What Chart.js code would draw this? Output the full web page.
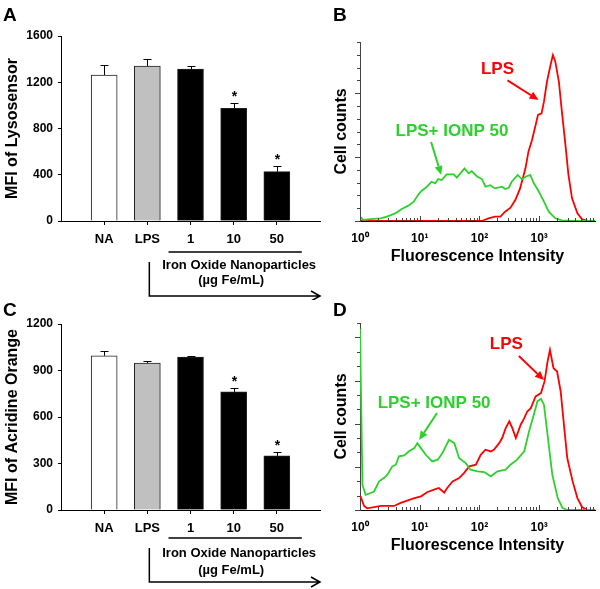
<!DOCTYPE html>
<html>
<head>
<meta charset="utf-8">
<script src="https://cdn.jsdelivr.net/npm/chart.js@4.4.0/dist/chart.umd.min.js"></script>
<style>
  body { margin: 0; background: #fff; }
  #fig { position: relative; width: 600px; height: 589px; overflow: hidden; }
  canvas { position: absolute; }
</style>
</head>
<body>
<div id="fig">
  <canvas id="panelA" width="330" height="300" style="left:0;top:0"></canvas>
  <canvas id="panelB" width="270" height="300" style="left:330px;top:0"></canvas>
  <canvas id="panelC" width="330" height="289" style="left:0;top:300px"></canvas>
  <canvas id="panelD" width="270" height="289" style="left:330px;top:300px"></canvas>
</div>
<script>
var FONT = '"Liberation Sans", Arial, sans-serif';
Chart.defaults.font.family = FONT;
Chart.defaults.color = '#000';
Chart.defaults.animation = false;

// bar panels (A, C)
var categories = ['NA', 'LPS', '1', '10', '50'];
var lysoMean = [1263, 1340, 1314, 975, 427];
var lysoErr = [84, 58, 24, 45, 49];
var acridineMean = [995, 948, 987, 762, 349];
var acridineErr = [32, 15, 6, 24, 24];
var significant = [false, false, false, true, true];
var barFill = ['#ffffff', '#c0c0c0', '#000000', '#000000', '#000000'];
var lysoTicks = [0, 400, 800, 1200, 1600];
var acridineTicks = [0, 300, 600, 900, 1200];

// histograms (B, D) - x = fluorescence intensity, y = cell counts
var histTickValues = [1, 10, 100, 1000];
var histTickLabels = ['10\u2070', '10\u00b9', '10\u00b2', '10\u00b3'];

var bGreenX = [1, 1.14, 1.48, 2.19, 2.82, 3.89, 5.01, 6.46, 7.94, 9.55, 10.7, 13.2, 15.8, 18.2, 20.4, 23.4, 28.2, 37.2, 41.7, 47.9, 56.2, 66.1, 74.1, 91.2, 110, 126, 151, 182, 240, 269, 309, 347, 437, 513, 603, 708, 813, 955, 1202, 1445, 1862, 2399, 3548, 8600];
var bGreenY = [3.4, 0.8, 1.5, 2.1, 3.4, 6, 9.4, 12, 15.1, 20.9, 23.5, 26.8, 30.7, 29.5, 32.8, 32, 36.5, 36.5, 34, 37.3, 41.2, 37.3, 39, 34.8, 32.8, 26.8, 28, 25.5, 26.8, 25, 26, 30.7, 36, 32.8, 34.8, 36, 29.5, 24.2, 15.1, 7.3, 2.1, 0.5, 0, 0];
var bRedX = [1, 110, 141, 182, 224, 269, 331, 398, 479, 589, 661, 759, 871, 955, 1096, 1202, 1349, 1549, 1698, 1862, 2138, 2399, 2754, 3090, 3548, 4365, 5248, 6761, 8600];
var bRedY = [0, 0, 2.1, 3.4, 3.4, 7.3, 10.4, 16.4, 25.5, 41.2, 54.2, 63.3, 75, 82.9, 84.2, 93.3, 108.9, 122, 129.8, 124.6, 108.9, 85.5, 59.4, 36, 17.7, 6, 1.3, 0, 0];

var dGreenX = [1, 1.10, 1.24, 1.51, 1.72, 2.09, 2.51, 2.88, 3.47, 3.98, 4.47, 5.50, 6.61, 8.13, 9.12, 10.5, 12.6, 16.2, 20.0, 24.0, 30.9, 38.0, 45.7, 58.9, 70.8, 93.3, 120, 155, 200, 275, 331, 427, 562, 676, 813, 933, 1072, 1202, 1380, 1660, 2042, 2455, 2951, 8600];
var dGreenY = [126, 17.6, 10.6, 11.8, 12.9, 19.9, 22.2, 24.5, 30.3, 31.5, 37.3, 38, 40.8, 43, 46.5, 43, 38.4, 33.8, 35, 39.6, 48.8, 46.5, 36, 32.6, 28, 26.9, 26.4, 23.4, 26.9, 28, 31.5, 35, 40.8, 54.6, 66.2, 75.5, 77.3, 73.2, 52.3, 24.5, 8.3, 1.4, 0, 0];
var dRedX = [1.02, 1.17, 1.32, 2.24, 3.72, 4.79, 6.17, 8.13, 10.5, 13.5, 17.4, 20.9, 25.7, 28.8, 35.5, 45.7, 55.0, 67.6, 87.1, 105, 126, 155, 174, 214, 240, 275, 316, 355, 407, 490, 562, 631, 724, 871, 1072, 1230, 1380, 1514, 1738, 1995, 2291, 2630, 2951, 3631, 4365, 5248, 6457, 8600];
var dRedY = [9.5, 2.8, 1.2, 2.8, 2.8, 4.9, 6.5, 8.3, 9.5, 12.5, 14.1, 15.3, 12, 15.3, 19.9, 22.2, 25.7, 30.3, 31.5, 38.4, 41.9, 40.7, 41.9, 46.5, 50, 56.9, 61.6, 56.9, 50, 59.3, 63.9, 68.5, 70.8, 79, 81.3, 89.4, 103.2, 111.3, 98.6, 96.3, 82.4, 56.9, 36.1, 19.9, 8.3, 1.9, 0, 0];

var RED = '#ff0000';
var GREEN = '#2ed02e';

function drawLetter(ctx, letter, y) {
    ctx.save();
    ctx.fillStyle = '#000';
    ctx.font = 'bold 19px ' + FONT;
    ctx.textAlign = 'left';
    ctx.textBaseline = 'alphabetic';
    ctx.fillText(letter, 3, y);
    ctx.restore();
}

function drawArrow(ctx, x1, y1, x2, y2, color) {
    var a = Math.atan2(y2 - y1, x2 - x1), L = 9, W = 4;
    var bx = x2 - L * Math.cos(a), by = y2 - L * Math.sin(a);
    ctx.strokeStyle = color; ctx.fillStyle = color; ctx.lineWidth = 2;
    ctx.beginPath(); ctx.moveTo(x1, y1); ctx.lineTo(bx, by); ctx.stroke();
    ctx.beginPath();
    ctx.moveTo(x2, y2);
    ctx.lineTo(bx + W * Math.sin(a), by - W * Math.cos(a));
    ctx.lineTo(bx - W * Math.sin(a), by + W * Math.cos(a));
    ctx.closePath(); ctx.fill();
}

// error bars, stars, bracket under the dose labels
var barExtras = {
    id: 'barExtras',
    afterDatasetsDraw: function (chart, args, opts) {
        var ctx = chart.ctx, xs = chart.scales.x, ys = chart.scales.y;
        var means = chart.data.datasets[0].data;
        ctx.save();
        ctx.strokeStyle = '#000'; ctx.lineWidth = 1;
        means.forEach(function (m, i) {
            if (m == null) return;
            var px = Math.round(xs.getPixelForValue(i)) + 0.5;
            var top = Math.round(ys.getPixelForValue(m + opts.errs[i])) + 0.5;
            var base = ys.getPixelForValue(m);
            ctx.beginPath();
            ctx.moveTo(px, base); ctx.lineTo(px, top);
            ctx.moveTo(px - 4, top); ctx.lineTo(px + 4, top);
            ctx.stroke();
            if (opts.sig[i]) {
                ctx.fillStyle = '#000';
                ctx.font = 'bold 14px ' + FONT;
                ctx.textAlign = 'center'; ctx.textBaseline = 'alphabetic';
                ctx.fillText('*', px, top - 3);
            }
        });
        ctx.restore();
    },
    afterDraw: function (chart, args, opts) {
        var ctx = chart.ctx, xs = chart.scales.x, b = opts.bracket;
        var yl = chart.chartArea.bottom;
        var xl = xs.getPixelForValue(3) - 22, xr = xs.getPixelForValue(5) + 25;
        var xv = xs.getPixelForValue(2) + 2, xe = chart.chartArea.right;
        ctx.save();
        ctx.strokeStyle = '#000'; ctx.lineWidth = 1.5;
        ctx.beginPath(); ctx.moveTo(xl, yl + b.line); ctx.lineTo(xr, yl + b.line); ctx.stroke();
        ctx.beginPath();
        ctx.moveTo(xv, yl + b.vTop); ctx.lineTo(xv, yl + b.arrow); ctx.lineTo(xe, yl + b.arrow);
        ctx.moveTo(xe - 9, yl + b.arrow - 5); ctx.lineTo(xe, yl + b.arrow); ctx.lineTo(xe - 9, yl + b.arrow + 5);
        ctx.stroke();
        ctx.fillStyle = '#000';
        ctx.font = 'bold 13px ' + FONT;
        ctx.textAlign = 'center'; ctx.textBaseline = 'middle';
        var xm = (xl + xr) / 2;
        ctx.fillText('Iron Oxide Nanoparticles', xm + 4, yl + b.t1);
        ctx.fillText('(\u00b5g Fe/mL)', xm - 4, yl + b.t2);
        ctx.restore();
        drawLetter(ctx, opts.letter, opts.letterY);
    }
};

function barPanel(id, letter, letterY, yTitle, means, errs, yTicks, padTop, bracket) {
    var labels = [''].concat(categories, ['']);
    var pad = function (v) { return [null].concat(v, [null]); };
    return new Chart(document.getElementById(id), {
        type: 'bar',
        data: {
            labels: labels,
            datasets: [{
                data: pad(means),
                backgroundColor: pad(barFill),
                borderColor: '#222',
                borderWidth: 1,
                barThickness: 26
            }]
        },
        options: {
            responsive: false,
            layout: { padding: { top: padTop, right: 10, bottom: 0, left: 0 } },
            plugins: {
                legend: { display: false },
                tooltip: { enabled: false },
                barExtras: { errs: pad(errs), sig: pad(significant), bracket: bracket, letter: letter, letterY: letterY }
            },
            scales: {
                x: {
                    offset: false,
                    grid: {
                        offset: false, drawOnChartArea: false, tickLength: 4,
                        tickColor: function (c) { return (c.index === 0 || c.index === labels.length - 1) ? 'rgba(0,0,0,0)' : '#000'; }
                    },
                    border: { color: '#000' },
                    ticks: { font: { size: 13, weight: 'bold' }, padding: 7, maxRotation: 0, autoSkip: false },
                    afterFit: function (s) { s.height = 79; }
                },
                y: {
                    min: yTicks[0], max: yTicks[yTicks.length - 1],
                    ticks: {
                        stepSize: yTicks[1] - yTicks[0],
                        callback: function (v) { return String(v); },
                        font: { size: 12, weight: 'bold' }, padding: 5
                    },
                    grid: { drawOnChartArea: false, tickLength: 3, tickColor: '#000' },
                    border: { color: '#000' },
                    title: { display: true, text: yTitle, font: { size: 16, weight: 'bold' }, padding: { top: 3, bottom: 0 } },
                    afterFit: function (s) { s.width = 61; }
                }
            }
        },
        plugins: [barExtras]
    });
}

// tick marks, annotations and letter for the histograms
var histExtras = {
    id: 'histExtras',
    afterDatasetsDraw: function (chart, args, opts) {
        var ctx = chart.ctx, xs = chart.scales.x, ys = chart.scales.y;
        ctx.save();
        opts.notes.forEach(function (n) {
            ctx.fillStyle = n.color;
            ctx.font = 'bold 17px ' + FONT;
            ctx.textAlign = 'center'; ctx.textBaseline = 'middle';
            ctx.fillText(n.text, xs.getPixelForValue(n.at[0]), ys.getPixelForValue(n.at[1]));
            drawArrow(ctx, xs.getPixelForValue(n.from[0]), ys.getPixelForValue(n.from[1]),
                xs.getPixelForValue(n.to[0]), ys.getPixelForValue(n.to[1]), n.color);
        });
        ctx.restore();
    },
    afterDraw: function (chart, args, opts) {
        var ctx = chart.ctx, xs = chart.scales.x, ys = chart.scales.y, area = chart.chartArea;
        ctx.save();
        ctx.strokeStyle = '#444'; ctx.lineWidth = 1;
        ctx.beginPath();
        for (var v = 0; v <= opts.yMax; v += opts.yMinor) {
            var py = Math.round(ys.getPixelForValue(v)) + 0.5;
            var len = (v % opts.yMajor === 0) ? 5 : 3;
            ctx.moveTo(area.left, py); ctx.lineTo(area.left - len, py);
        }
        histTickValues.forEach(function (dec) {
            for (var m = 1; m <= 9; m++) {
                if (m * dec > xs.max) break;
                var px = Math.round(xs.getPixelForValue(m * dec)) + 0.5;
                var l = m === 1 ? 5 : 3;
                ctx.moveTo(px, area.bottom); ctx.lineTo(px, area.bottom - l);
            }
        });
        ctx.stroke();
        ctx.restore();
        drawLetter(ctx, opts.letter, opts.letterY);
    }
};

function histPanel(id, letter, letterY, series, yMax, yMajor, padTop, notes) {
    return new Chart(document.getElementById(id), {
        type: 'line',
        data: {
            datasets: series.map(function (s) {
                return {
                    data: s.x.map(function (v, i) { return { x: v, y: s.y[i] }; }),
                    borderColor: s.color, borderWidth: 1.8,
                    pointRadius: 0, tension: 0, fill: false
                };
            })
        },
        options: {
            responsive: false,
            layout: { padding: { top: padTop, right: 5, bottom: 0, left: 0 } },
            plugins: {
                legend: { display: false },
                tooltip: { enabled: false },
                histExtras: { notes: notes, yMax: yMax, yMajor: yMajor, yMinor: 10, letter: letter, letterY: letterY }
            },
            scales: {
                x: {
                    type: 'logarithmic', min: 1, max: 8600,
                    afterBuildTicks: function (s) { s.ticks = histTickValues.map(function (v) { return { value: v }; }); },
                    ticks: {
                        callback: function (v, i) { return histTickLabels[i]; },
                        font: { size: 12, weight: 'bold' }, padding: 10, maxRotation: 0, autoSkip: false
                    },
                    grid: { drawOnChartArea: false, drawTicks: false },
                    border: { color: '#000' },
                    title: { display: true, text: 'Fluorescence Intensity', font: { size: 16, weight: 'bold' }, padding: { top: 0, bottom: 34 } },
                    afterFit: function (s) { s.height = 79; }
                },
                y: {
                    min: 0, max: yMax,
                    ticks: { display: false },
                    grid: { drawOnChartArea: false, drawTicks: false },
                    border: { color: '#444' },
                    title: { display: true, text: 'Cell counts', font: { size: 16, weight: 'bold' }, padding: { top: 2, bottom: 0 } },
                    afterFit: function (s) { s.width = 30; }
                }
            }
        },
        plugins: [histExtras]
    });
}

barPanel('panelA', 'A', 21, 'MFI of Lysosensor', lysoMean, lysoErr, lysoTicks, 36,
    { line: 31, vTop: 41, arrow: 75, t1: 44, t2: 59 });
barPanel('panelC', 'C', 16, 'MFI of Acridine Orange', acridineMean, acridineErr, acridineTicks, 24,
    { line: 28, vTop: 38, arrow: 72, t1: 43, t2: 60 });

histPanel('panelB', 'B', 21, [
    { x: bGreenX, y: bGreenY, color: GREEN },
    { x: bRedX, y: bRedY, color: RED }
], 140, 50, 42, [
    { text: 'LPS', color: RED, at: [200, 119], from: [295, 110], to: [977, 94.6] },
    { text: 'LPS+ IONP 50', color: GREEN, at: [34.7, 70.4], from: [15.5, 61.8], to: [22.9, 36] }
]);

histPanel('panelD', 'D', 16, [
    { x: dGreenX, y: dGreenY, color: GREEN },
    { x: dRedX, y: dRedY, color: RED }
], 130, 30, 23, [
    { text: 'LPS', color: RED, at: [282, 115.3], from: [457, 107], to: [1202, 90.3] },
    { text: 'LPS+ IONP 50', color: GREEN, at: [17.4, 74.3], from: [19.5, 67.4], to: [9.77, 48.6] }
]);
</script>
</body>
</html>
